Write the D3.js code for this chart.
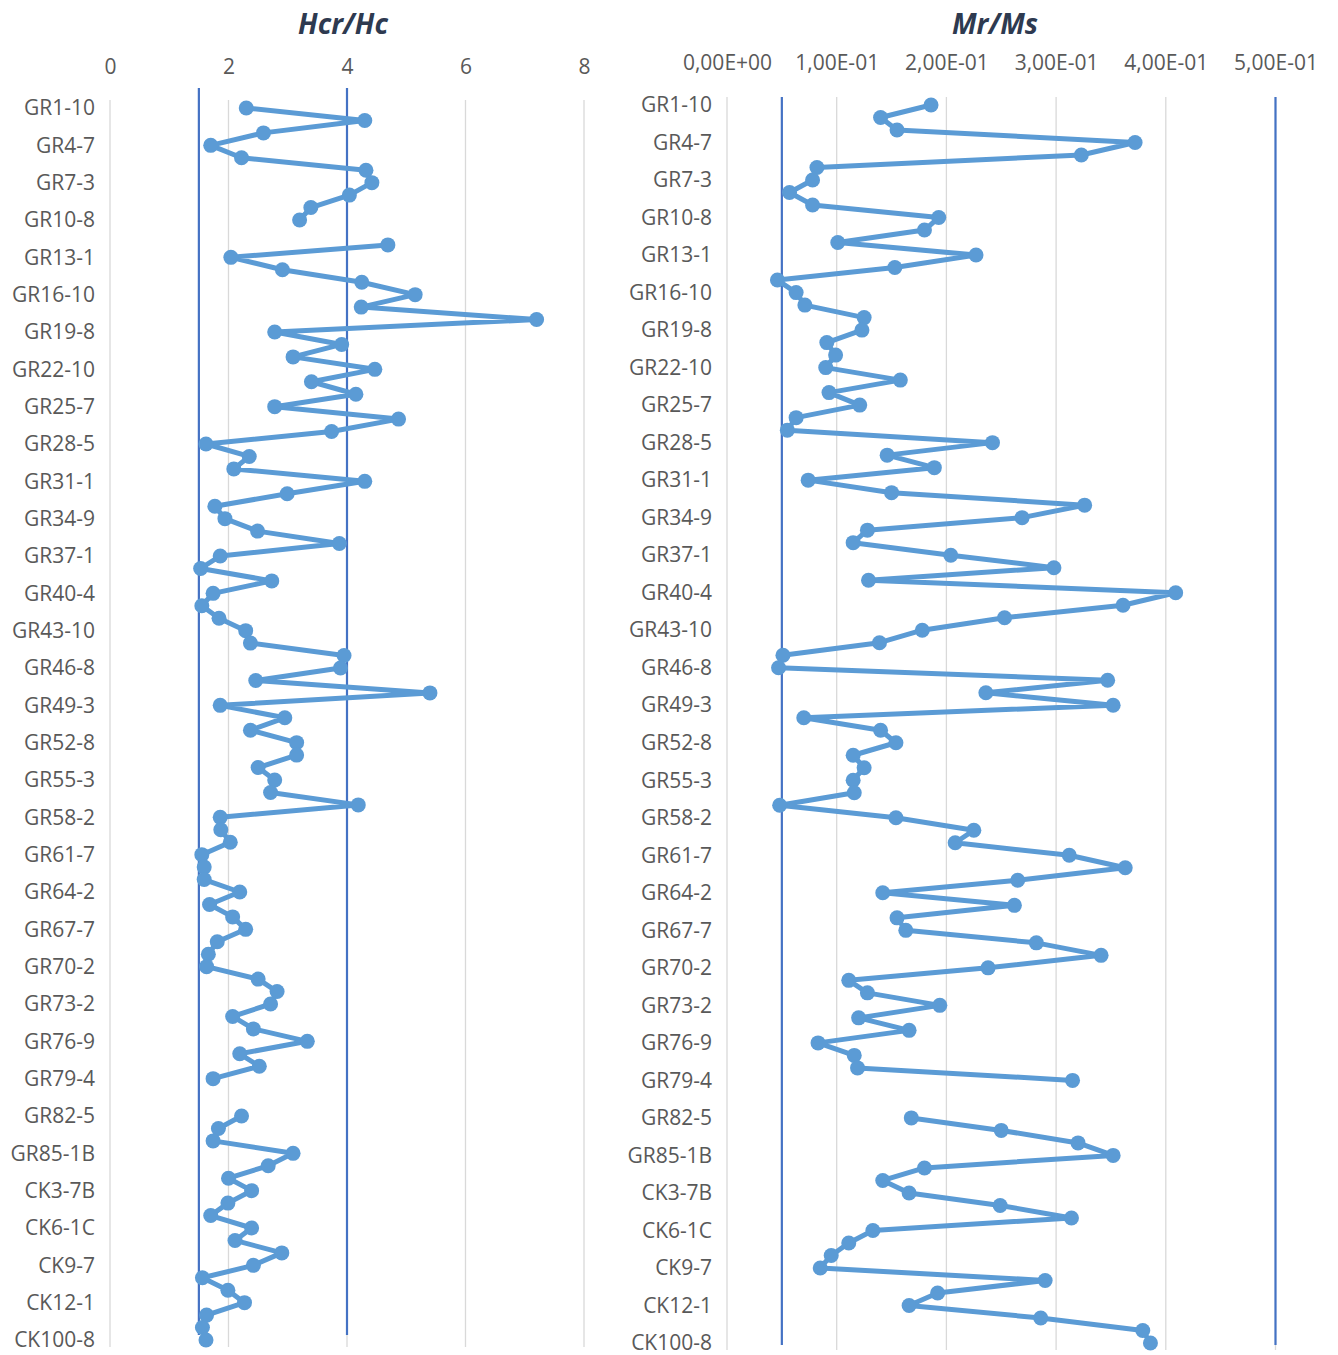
<!DOCTYPE html>
<html>
<head>
<meta charset="utf-8">
<script src="https://cdn.jsdelivr.net/npm/d3@7"></script>
<style>
  body { margin: 0; background: #fff; }
  text { font-family: "Open Sans", sans-serif; }
</style>
</head>
<body>
<div id="main"></div>
<script>
// samples, top to bottom (only every third one gets a label)
var categories = [
  "GR1-10","GR2","GR3","GR4-7","GR5","GR6","GR7-3","GR8","GR9","GR10-8",
  "GR11","GR12","GR13-1","GR14","GR15","GR16-10","GR17","GR18","GR19-8","GR20",
  "GR21","GR22-10","GR23","GR24","GR25-7","GR26","GR27","GR28-5","GR29","GR30",
  "GR31-1","GR32","GR33","GR34-9","GR35","GR36","GR37-1","GR38","GR39","GR40-4",
  "GR41","GR42","GR43-10","GR44","GR45","GR46-8","GR47","GR48","GR49-3","GR50",
  "GR51","GR52-8","GR53","GR54","GR55-3","GR56","GR57","GR58-2","GR59","GR60",
  "GR61-7","GR62","GR63","GR64-2","GR65","GR66","GR67-7","GR68","GR69","GR70-2",
  "GR71","GR72","GR73-2","GR74","GR75","GR76-9","GR77","GR78","GR79-4","GR80",
  "GR81","GR82-5","GR83","GR84","GR85-1B","CK1","CK2","CK3-7B","CK4","CK5",
  "CK6-1C","CK7","CK8","CK9-7","CK10","CK11","CK12-1","CK13","CK14","CK100-8"
];
var shownLabels = [
  "GR1-10","GR4-7","GR7-3","GR10-8","GR13-1","GR16-10","GR19-8","GR22-10","GR25-7",
  "GR28-5","GR31-1","GR34-9","GR37-1","GR40-4","GR43-10","GR46-8","GR49-3","GR52-8",
  "GR55-3","GR58-2","GR61-7","GR64-2","GR67-7","GR70-2","GR73-2","GR76-9","GR79-4",
  "GR82-5","GR85-1B","CK3-7B","CK6-1C","CK9-7","CK12-1","CK100-8"
];

var hcrValues = [
  2.30,4.30,2.59,1.70,2.22,4.32,4.42,4.04,3.39,3.20,
  null,4.69,2.04,2.91,4.25,5.15,4.24,7.20,2.78,3.91,
  3.09,4.47,3.40,4.15,2.78,4.87,3.74,1.62,2.35,2.09,
  4.30,2.99,1.77,1.94,2.49,3.87,1.86,1.53,2.73,1.74,
  1.55,1.84,2.29,2.37,3.95,3.89,2.46,5.40,1.86,2.95,
  2.37,3.15,3.15,2.50,2.78,2.71,4.19,1.86,1.87,2.03,
  1.55,1.59,1.59,2.19,1.68,2.07,2.29,1.81,1.66,1.63,
  2.50,2.82,2.71,2.07,2.42,3.33,2.19,2.52,1.74,null,
  null,2.22,1.83,1.74,3.09,2.67,2.00,2.39,1.99,1.70,
  2.39,2.11,2.90,2.42,1.56,1.99,2.27,1.63,1.56,1.62
];
var mrValues = [
  0.186,0.140,0.155,0.372,0.323,0.082,0.078,0.057,0.078,0.193,
  0.180,0.101,0.227,0.153,0.046,0.063,0.071,0.125,0.123,0.091,
  0.099,0.090,0.158,0.093,0.121,0.063,0.055,0.242,0.146,0.189,
  0.074,0.150,0.326,0.269,0.128,0.115,0.204,0.298,0.129,0.409,
  0.361,0.253,0.178,0.139,0.051,0.047,0.347,0.236,0.352,0.070,
  0.140,0.154,0.115,0.125,0.115,0.116,0.048,0.154,0.225,0.208,
  0.312,0.363,0.265,0.142,0.262,0.155,0.163,0.282,0.341,0.238,
  0.111,0.128,0.194,0.120,0.166,0.083,0.116,0.119,0.315,null,
  null,0.168,0.250,0.320,0.352,0.180,0.142,0.166,0.249,0.314,
  0.133,0.111,0.095,0.085,0.290,0.192,0.166,0.286,0.379,0.386
];

var hcrTicks = [0, 2, 4, 6, 8];
var mrTicks = [0, 0.1, 0.2, 0.3, 0.4, 0.5];
var hcrRefs = [1.5, 4];
var mrRefs = [0.05, 0.5];

var svg = d3.select("#main").append("svg")
    .attr("width", 1338)
    .attr("height", 1355);

function sciComma(v) {
  var parts = v.toExponential(2).split("e");
  var e = +parts[1];
  var es = (e < 0 ? "-" : "+") + (Math.abs(e) < 10 ? "0" : "") + Math.abs(e);
  return parts[0].replace(".", ",") + "E" + es;
}

function panel(opt) {
  var x = d3.scaleLinear().domain(opt.domain).range(opt.xRange);
  var y = d3.scalePoint().domain(categories).range(opt.yRange);
  var g = svg.append("g");

  // gridlines
  g.selectAll(".grid").data(opt.ticks).enter().append("line")
      .attr("x1", d => x(d)).attr("x2", d => x(d))
      .attr("y1", opt.gridTop).attr("y2", opt.gridBottom)
      .attr("stroke", "#d9d9d9")
      .attr("stroke-width", 1.3);

  // reference lines
  g.selectAll(".ref").data(opt.refs).enter().append("line")
      .attr("x1", d => x(d)).attr("x2", d => x(d))
      .attr("y1", opt.refTop).attr("y2", opt.refBottom)
      .attr("stroke", "#4472c4")
      .attr("stroke-width", 2.2);

  // top value axis
  var ax = g.append("g")
      .attr("transform", "translate(0," + opt.tickY + ")")
      .call(d3.axisTop(x).tickValues(opt.ticks).tickSize(0).tickPadding(0).tickFormat(opt.format));
  ax.select(".domain").remove();
  ax.selectAll("text")
      .attr("fill", "#595959")
      .style("font-size", "21px")
      .style("font-family", "'Open Sans', sans-serif");

  // category axis
  var ay = g.append("g")
      .attr("transform", "translate(" + opt.labelX + ",0)")
      .call(d3.axisLeft(y).tickValues(shownLabels).tickSize(0).tickPadding(0));
  ay.select(".domain").remove();
  ay.selectAll("text")
      .attr("fill", "#595959")
      .style("font-size", "21px")
      .style("font-family", "'Open Sans', sans-serif");

  var pts = categories.map((c, i) => ({ c: c, v: opt.values[i] }));

  var line = d3.line()
      .defined(d => d.v != null)
      .x(d => x(d.v))
      .y(d => y(d.c));

  g.append("path")
      .datum(pts)
      .attr("d", line)
      .attr("fill", "none")
      .attr("stroke", "#5b9bd5")
      .attr("stroke-width", 5)
      .attr("stroke-linejoin", "round");

  g.selectAll(".pt").data(pts.filter(d => d.v != null)).enter().append("circle")
      .attr("cx", d => x(d.v))
      .attr("cy", d => y(d.c))
      .attr("r", 7.5)
      .attr("fill", "#5b9bd5");

  svg.append("text")
      .attr("x", opt.titleX)
      .attr("y", 34)
      .attr("text-anchor", "middle")
      .attr("fill", "#2e3a50")
      .style("font-size", "28px")
      .style("font-weight", "bold")
      .style("font-style", "italic")
      .text(opt.title);
}

panel({
  title: "Hcr/Hc", titleX: 343,
  domain: [0, 8], xRange: [110, 584], yRange: [108, 1340],
  ticks: hcrTicks, refs: hcrRefs, values: hcrValues,
  format: d3.format("d"),
  gridTop: 100, gridBottom: 1347, refTop: 88, refBottom: 1335,
  tickY: 74, labelX: 95
});

panel({
  title: "Mr/Ms", titleX: 995,
  domain: [0, 0.5], xRange: [727, 1275.5], yRange: [105, 1343],
  ticks: mrTicks, refs: mrRefs, values: mrValues,
  format: sciComma,
  gridTop: 97, gridBottom: 1350, refTop: 97, refBottom: 1345,
  tickY: 70, labelX: 712
});
</script>
</body>
</html>
